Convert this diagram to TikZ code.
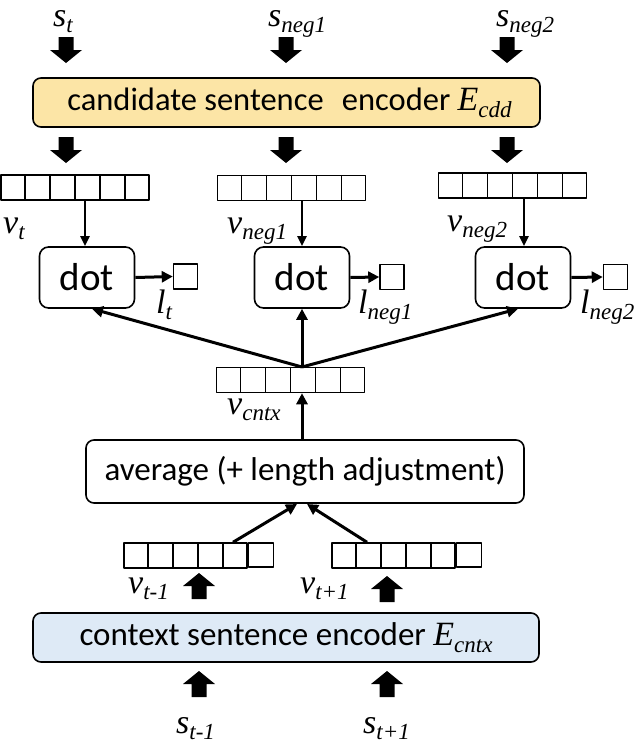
\documentclass[tikz,border=0pt]{standalone}
\usepackage{fontspec}
\setmainfont{Carlito}
\newfontfamily\tnr{Liberation Serif}
\usetikzlibrary{arrows.meta,calc}
\definecolor{cddfill}{RGB}{252,229,166}
\definecolor{ctxfill}{RGB}{222,234,246}
\newcommand\mv[2]{{\tnr\itshape\fontsize{34}{34}\selectfont #1\raisebox{-0.2em}{\fontsize{23}{23}\selectfont #2}}}
\newcommand\vgrid[1]{\foreach \i in {1,...,5}{\draw[line width=1.5pt] ($(#1.north west)!\i/6!(#1.north east)$) -- ($(#1.south west)!\i/6!(#1.south east)$);}}
\begin{document}
\begin{tikzpicture}[x=1pt,y=-1pt,line join=round,
  encbox/.style={draw,line width=1.6pt,rounded corners=8pt,inner sep=0pt},
  dotbox/.style={draw,line width=1.6pt,rounded corners=9pt,minimum width=95pt,minimum height=61pt,inner sep=0pt,font=\fontsize{39}{39}\selectfont},
  vecbox/.style={draw,line width=1.5pt,minimum width=148pt,minimum height=25pt,inner sep=0pt},
  sqbox/.style={draw,line width=1.5pt,minimum width=24pt,minimum height=25pt,inner sep=0pt},
  lab/.style={anchor=base west,inner sep=0pt},
  thinarr/.style={line width=2.4pt,-{Triangle[length=10pt,width=9pt]}},
  thickarr/.style={line width=3pt,-{Triangle[length=11pt,width=11pt]}},
  bdown/.pic={\fill (-7.5,0) -- (7.5,0) -- (7.5,13) -- (16,13) -- (0,26) -- (-16,13) -- (-7.5,13) -- cycle;},
  bup/.pic={\fill (-7.5,26) -- (7.5,26) -- (7.5,13) -- (16,13) -- (0,0) -- (-16,13) -- (-7.5,13) -- cycle;}
]
\useasboundingbox (0,0) rectangle (640,744);

% labels top
\node[lab] (st) at (53,26) {\mv{s}{t}};
\node[lab] (sn1) at (268,26) {\mv{s}{neg1}};
\node[lab] (sn2) at (496,26) {\mv{s}{neg2}};
\pic at (66,37) {bdown};
\pic at (286,37) {bdown};
\pic at (507,37) {bdown};

% candidate encoder
\node[encbox,fill=cddfill,minimum width=507pt,minimum height=49pt,font=\fontsize{32.5}{32.5}\selectfont] (cdd) at (286.5,102.5)
  {\hspace{6pt}candidate sentence\,\, encoder \mv{E}{cdd}};
\pic at (66,137) {bdown};
\pic at (286,137) {bdown};
\pic at (507,137) {bdown};

% vectors
\node[vecbox] (vt) at (75,187.5) {};
\node[vecbox] (vn1) at (291.5,188) {};
\node[vecbox] (vn2) at (512.5,185.5) {};
\vgrid{vt}\vgrid{vn1}\vgrid{vn2}
\node[lab] at (3,233) {\mv{v}{t}};
\node[lab] at (227,233) {\mv{v}{neg1}};
\node[lab] at (447,231) {\mv{v}{neg2}};

% dot boxes
\node[dotbox] (dt) at (87,277.5) {dot};
\node[dotbox] (dn1) at (302,277.5) {dot};
\node[dotbox] (dn2) at (523,277.5) {dot};
\node[sqbox] (qt) at (185.5,276.5) {};
\node[sqbox] (qn1) at (392,277) {};
\node[sqbox] (qn2) at (615.5,277) {};
\node[lab] at (156,313) {\mv{l}{t}};
\node[lab] at (358,313) {\mv{l}{neg1}};
\node[lab] at (580,313) {\mv{l}{neg2}};

\coordinate (xa) at (85,0);
\coordinate (xb) at (302,0);
\coordinate (xc) at (524,0);
\draw[thinarr] (xa |- vt.south) -- (xa |- dt.north);
\draw[thinarr] (xb |- vn1.south) -- (xb |- dn1.north);
\draw[thinarr] (xc |- vn2.south) -- (xc |- dn2.north);
\draw[thickarr] (dt.east) -- (qt.west);
\draw[thickarr] (dn1.east) -- (qn1.west);
\draw[thickarr] (dn2.east) -- (qn2.west);

% v_cntx
\node[vecbox] (vc) at (290.5,380) {};
\vgrid{vc}
\coordinate (C) at (302,367);
\draw[thickarr] (C) -- ($(dt.south)+(5,0)$);
\draw[thickarr] (C) -- (dn1.south);
\draw[thickarr] (C) -- ($(dn2.south)+(-5,0)$);
\node[lab] at (227,414) {\mv{v}{cntx}};

% average
\node[encbox,minimum width=438pt,minimum height=63pt,font=\fontsize{33}{33}\selectfont] (avg) at (305,471.5) {average (+ length adjustment)};
\draw[thickarr] (xb |- avg.north) -- (xb |- vc.south);

% context vectors
\node[vecbox,minimum width=123pt] (vm) at (185.5,555.5) {};
\node[sqbox,minimum width=25pt,minimum height=24pt,anchor=north west] (vmx) at (vm.north east) {};
\foreach \i in {1,...,4}{\draw[line width=1.5pt] ($(vm.north west)!\i/5!(vm.north east)$) -- ($(vm.south west)!\i/5!(vm.south east)$);}
\node[vecbox,minimum width=123pt] (vp) at (393.5,555.5) {};
\node[sqbox,minimum width=25pt,minimum height=24pt,anchor=north west] (vpx) at (vp.north east) {};
\foreach \i in {1,...,4}{\draw[line width=1.5pt] ($(vp.north west)!\i/5!(vp.north east)$) -- ($(vp.south west)!\i/5!(vp.south east)$);}
\coordinate (ta) at (233,0);
\coordinate (tb) at (367,0);
\coordinate (tipa) at (297,504);
\coordinate (tipb) at (307,504);
\draw[thickarr] (ta |- vm.north) -- (tipa);
\draw[thickarr] (tb |- vp.north) -- (tipb);
\node[lab] at (128,593) {\mv{v}{t-1}};
\node[lab] at (300,593) {\mv{v}{t+1}};
\pic at (199,573) {bup};
\pic at (387,576) {bup};

% context encoder
\node[encbox,fill=ctxfill,minimum width=506pt,minimum height=49pt,font=\fontsize{33}{33}\selectfont] (ctx) at (286,637.5)
  {context sentence encoder \mv{E}{cntx}};
\pic at (199,671) {bup};
\pic at (387,671) {bup};
\node[lab] (sm) at (176,733) {\mv{s}{t-1}};
\node[lab] (sp) at (363,733) {\mv{s}{t+1}};
\end{tikzpicture}
\end{document}
